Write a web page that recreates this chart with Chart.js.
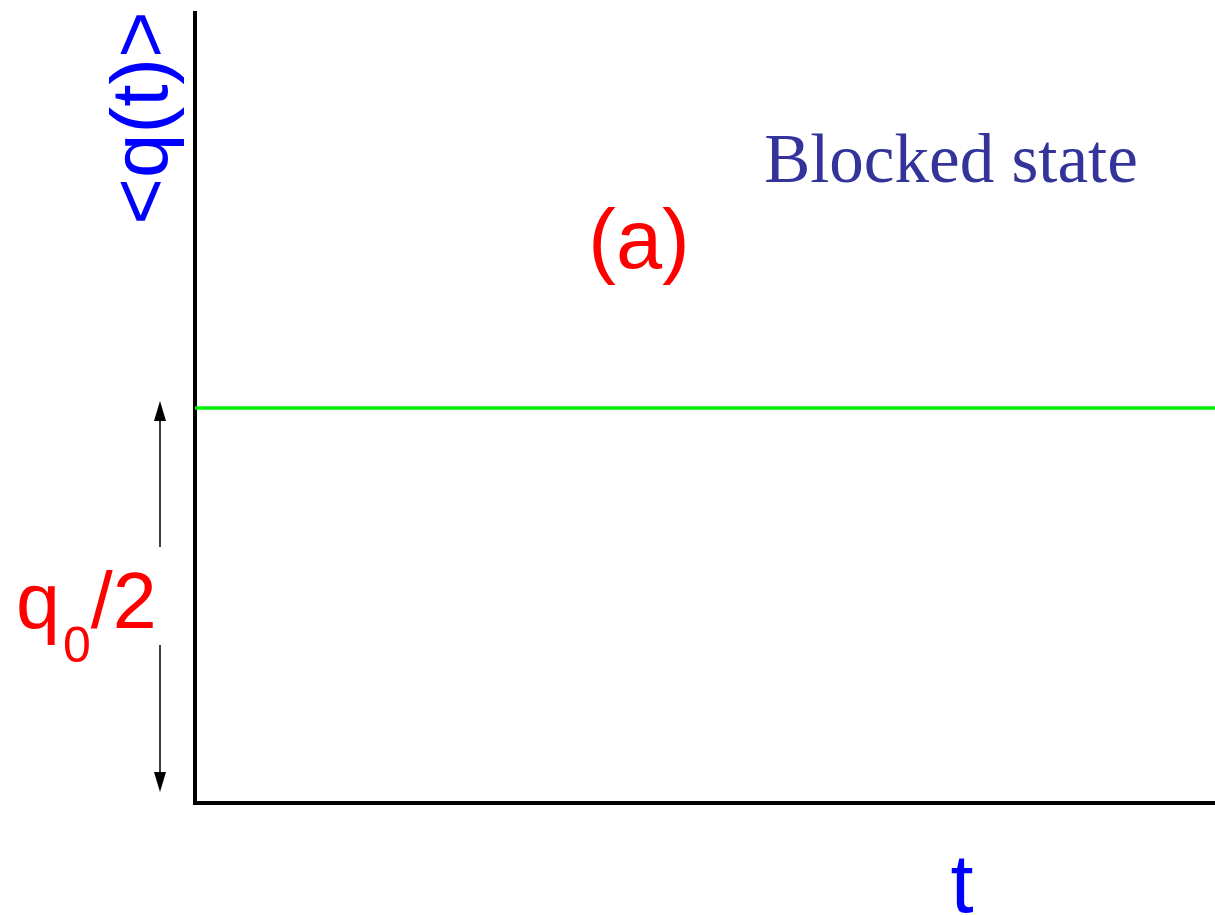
<!DOCTYPE html>
<html>
<head>
<meta charset="utf-8">
<title>Blocked state</title>
<script src="https://cdn.jsdelivr.net/npm/chart.js@4"></script>
<style>
  html, body { margin: 0; padding: 0; background: #fff; }
  canvas { display: block; }
</style>
</head>
<body>
<canvas id="stateChart" width="1215" height="915"></canvas>
<script>
// time axis runs over [0, tMax]; <q(t)> is measured in units of q0
const timePoints = [0, 1];
const meanQ = [0.5, 0.5];   // stays at q0/2 in the blocked state
const q0 = 1;
const yRange = [0, q0];

const sans = '"Liberation Sans", Arial, sans-serif';
const serif = '"Liberation Serif", "Times New Roman", serif';

// filled arrow head with its tip at (x, yTip); dir -1 points up, 1 points down
function arrowHead(ctx, x, yTip, dir) {
    ctx.beginPath();
    ctx.moveTo(x, yTip);
    ctx.lineTo(x - 6, yTip - dir * 20);
    ctx.lineTo(x + 6, yTip - dir * 20);
    ctx.closePath();
    ctx.fill();
}

const figureLabels = {
    id: 'figureLabels',
    afterDraw(chart) {
        const ctx = chart.ctx;
        const xs = chart.scales.x;
        const ys = chart.scales.y;
        const yHalf = ys.getPixelForValue(meanQ[0]);
        const yZero = ys.getPixelForValue(yRange[0]);
        ctx.save();

        // double arrow spanning 0 .. q0/2
        const ax = xs.left - 35;
        ctx.strokeStyle = '#000';
        ctx.fillStyle = '#000';
        ctx.lineWidth = 1.5;
        const top = yHalf - 7;
        const bottom = yZero - 11;
        ctx.beginPath();
        ctx.moveTo(ax, top + 18);
        ctx.lineTo(ax, 547);
        ctx.moveTo(ax, 645);
        ctx.lineTo(ax, bottom - 18);
        ctx.stroke();
        arrowHead(ctx, ax, top, -1);
        arrowHead(ctx, ax, bottom, 1);

        // q0/2 label between the arrow shafts
        ctx.fillStyle = '#ff0000';
        ctx.textBaseline = 'alphabetic';
        ctx.textAlign = 'left';
        ctx.font = '79px ' + sans;
        ctx.fillText('q', 16, 628);
        const qW = ctx.measureText('q').width;
        ctx.font = '50px ' + sans;
        ctx.fillText('0', 16 + qW + 3, 662);
        const zW = ctx.measureText('0').width;
        ctx.font = '79px ' + sans;
        ctx.fillText('/2', 16 + qW + zW + 3, 628);

        // panel tag
        ctx.textAlign = 'center';
        ctx.font = '83px ' + sans;
        ctx.fillText('(a)', 639, 268);

        // state name
        ctx.fillStyle = '#333399';
        ctx.font = '69px ' + serif;
        ctx.fillText('Blocked state', 951, 182);

        // axis titles
        ctx.fillStyle = '#0000ff';
        ctx.font = '83px ' + sans;
        ctx.fillText('t', 962, 912);

        ctx.translate(167, 118);
        ctx.rotate(-Math.PI / 2);
        ctx.font = '80px ' + sans;
        ctx.fillText('<q(t)>', 0, 0);
        ctx.restore();
    }
};

new Chart(document.getElementById('stateChart').getContext('2d'), {
    type: 'line',
    data: {
        datasets: [{
            label: '<q(t)>',
            data: timePoints.map((t, i) => ({ x: t, y: meanQ[i] })),
            borderColor: '#00f000',
            borderWidth: 3.5,
            pointRadius: 0,
            fill: false,
            tension: 0
        }]
    },
    options: {
        responsive: false,
        animation: false,
        layout: { padding: { top: 13, right: 0, left: 0, bottom: 0 } },
        plugins: {
            legend: { display: false },
            tooltip: { enabled: false }
        },
        scales: {
            x: {
                type: 'linear',
                min: timePoints[0],
                max: timePoints[timePoints.length - 1],
                grid: { display: false, drawTicks: false },
                border: { display: true, color: '#000', width: 4 },
                ticks: { display: false },
                afterFit(scale) { scale.height = 112; }
            },
            y: {
                type: 'linear',
                min: yRange[0],
                max: yRange[1],
                grid: { display: false, drawTicks: false },
                border: { display: true, color: '#000', width: 4 },
                ticks: { display: false },
                afterFit(scale) { scale.width = 195; }
            }
        }
    },
    plugins: [figureLabels]
});
</script>
</body>
</html>
